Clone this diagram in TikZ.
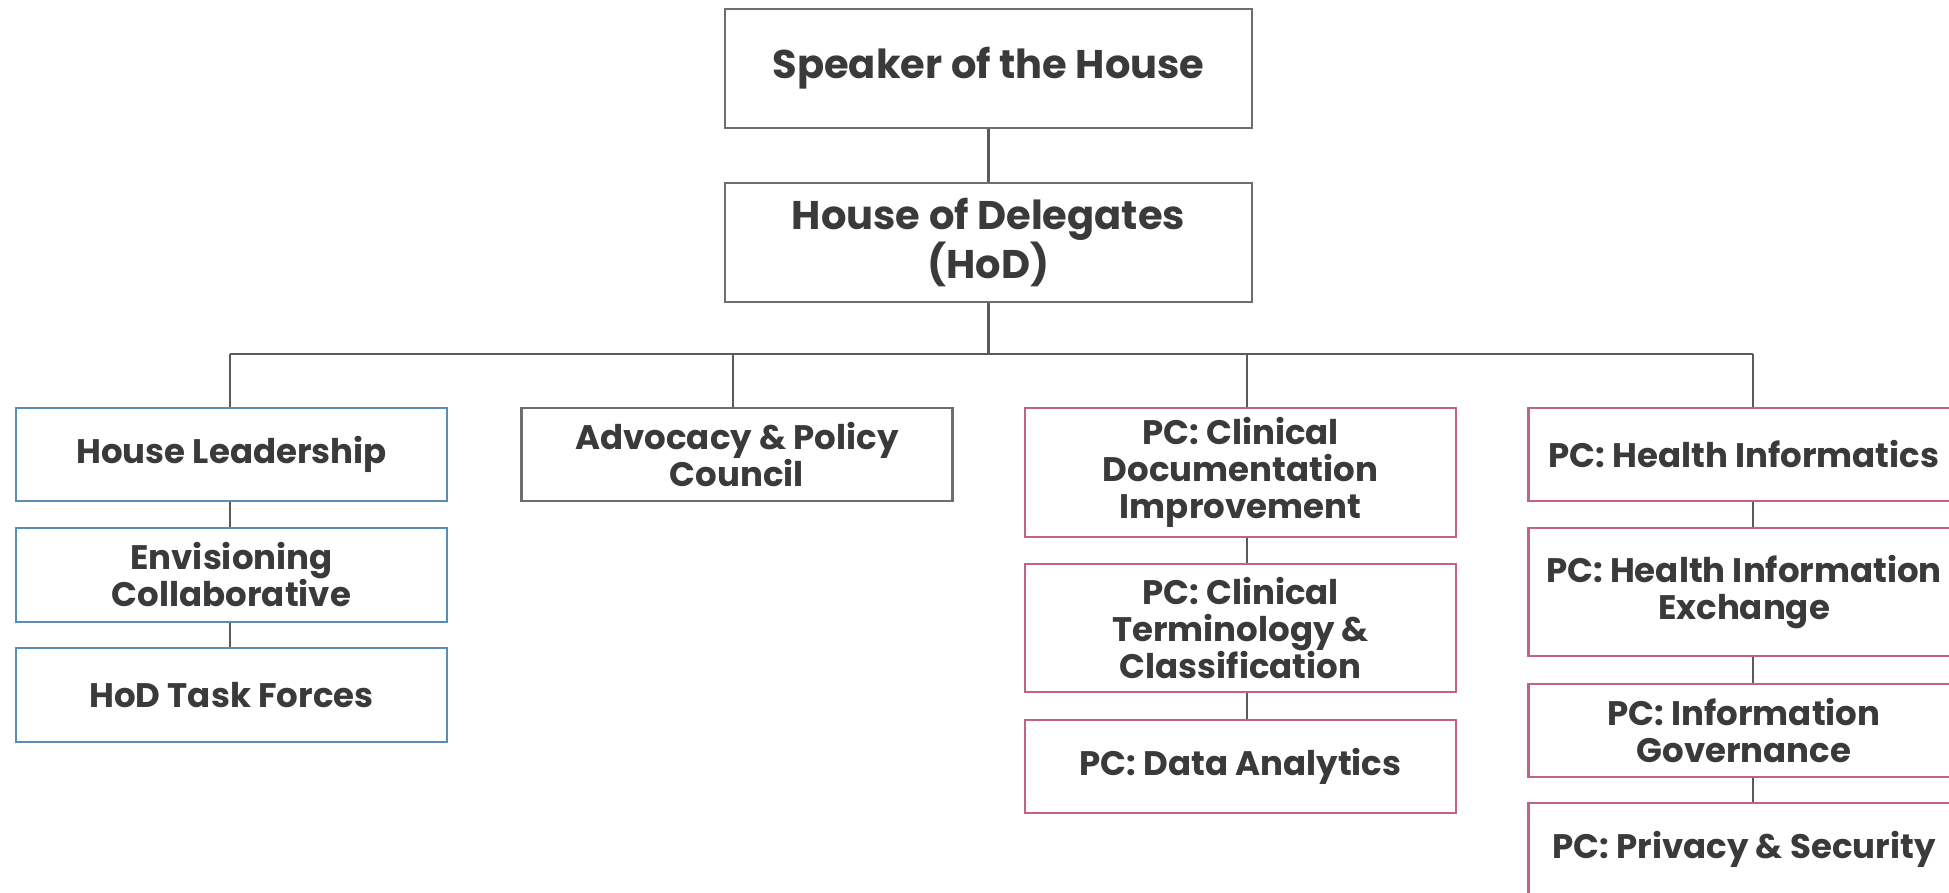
\documentclass[tikz,border=0pt]{standalone}
\usepackage{fontspec}
\setmainfont{Poppins}
\definecolor{txt}{HTML}{3A3A3A}
\definecolor{grayb}{HTML}{6E6E6E}
\definecolor{blueb}{HTML}{5A8DB2}
\definecolor{pinkb}{HTML}{C2647E}
\definecolor{conn}{HTML}{5A5A5A}
\tikzset{
  box/.style={draw=grayb, line width=2.6pt, fill=white, text=txt, align=center,
    inner xsep=0pt, inner ysep=0pt, minimum width=431pt,
    font=\fontsize{34}{37}\selectfont\bfseries},
  topbox/.style={box, minimum width=527pt, minimum height=119pt,
    font=\fontsize{40}{44}\selectfont\bfseries},
  bluebox/.style={box, draw=blueb},
  pinkbox/.style={box, draw=pinkb},
  link/.style={draw=conn, line width=2.2pt}
}
\begin{document}
\begin{tikzpicture}[x=1pt,y=-1pt]
\useasboundingbox (0,0) rectangle (1949,893);
\fill[white] (0,0) rectangle (1949,893);
\node[topbox] (speaker) at (988.5,68.5) {Speaker of the House};
\node[topbox] (hod) at (988.5,242.5) {House of Delegates\\(HoD)};
\coordinate (bar) at (0,354);
\coordinate (k1) at (230,0);
\coordinate (k2) at (733,0);
\coordinate (k3) at (1247,0);
\coordinate (k4) at (1753,0);
% column 1
\node[bluebox, minimum height=93pt] (hl) at (231.5,454.5) {House Leadership};
\node[bluebox, minimum height=94pt] (env) at (231.5,575) {Envisioning\\Collaborative};
\node[bluebox, minimum height=94pt] (tf) at (231.5,695) {HoD Task Forces};
% column 2
\node[box, minimum height=93pt] (adv) at (737,454.5) {Advocacy \& Policy\\Council};
% column 3
\node[pinkbox, minimum height=129pt] (cdi) at (1240.5,472.5) {PC: Clinical\\Documentation\\Improvement};
\node[pinkbox, minimum height=128pt] (ctc) at (1240.5,628) {PC: Clinical\\Terminology \&\\Classification};
\node[pinkbox, minimum height=93pt] (da) at (1240.5,766.5) {PC: Data Analytics};
% column 4
\node[pinkbox, minimum height=93pt] (hi) at (1744,454.5) {PC: Health Informatics};
\node[pinkbox, minimum height=128pt] (hie) at (1744,592) {PC: Health Information\\Exchange};
\node[pinkbox, minimum height=93pt] (ig) at (1744,730.5) {PC: Information\\Governance};
\node[pinkbox, minimum height=93pt] (ps) at (1744,849.5) {PC: Privacy \& Security};
% connectors
\draw[link] (speaker.south) -- (hod.north);
\draw[link] (hod.south) -- (hod.south |- bar);
\draw[link] (bar -| k1) -- (bar -| k4);
\draw[link] (bar -| k1) -- (hl.north -| k1);
\draw[link] (bar -| k2) -- (adv.north -| k2);
\draw[link] (bar -| k3) -- (cdi.north -| k3);
\draw[link] (bar -| k4) -- (hi.north -| k4);
\draw[link] (hl.south -| k1) -- (env.north -| k1);
\draw[link] (env.south -| k1) -- (tf.north -| k1);
\draw[link] (cdi.south -| k3) -- (ctc.north -| k3);
\draw[link] (ctc.south -| k3) -- (da.north -| k3);
\draw[link] (hi.south -| k4) -- (hie.north -| k4);
\draw[link] (hie.south -| k4) -- (ig.north -| k4);
\draw[link] (ig.south -| k4) -- (ps.north -| k4);
\end{tikzpicture}
\end{document}
